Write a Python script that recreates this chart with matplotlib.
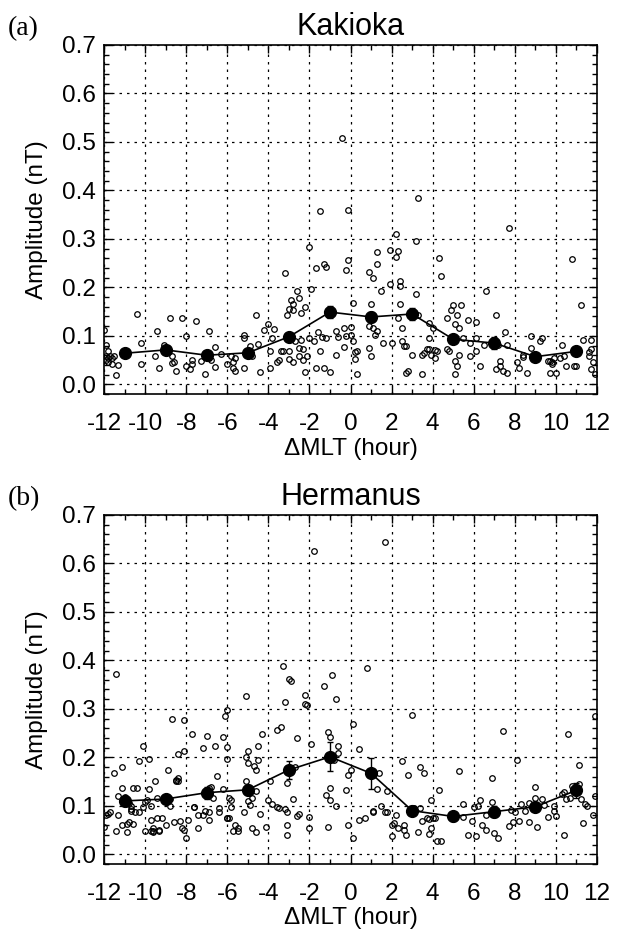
import numpy as np
import matplotlib
matplotlib.use('Agg')
import matplotlib.pyplot as plt
from matplotlib.ticker import MultipleLocator, FormatStrFormatter

plt.rcParams['font.family'] = 'Liberation Sans'
plt.rcParams['axes.unicode_minus'] = False

# ---- Kakioka: individual events (dMLT hour, amplitude nT)
kak_x = [-12.0, -11.9, -11.8, -11.9, -11.8, -11.9, -11.7, -11.8, -11.6, -11.5, -11.4, -11.3, -11.6,
         -10.4, -10.2, -10.2, -9.5, -9.4, -9.3, -9.1, -9.0, -8.8, -8.7, -8.7, -8.6, -8.5, -8.2, -8.0,
         -8.0, -7.8, -7.7, -7.7, -7.5, -7.3, -7.1, -6.9, -6.9, -6.8, -6.6, -6.6, -6.3, -6.0, -5.8,
         -5.7, -5.7, -5.6, -5.6, -5.2, -5.2, -5.2, -4.9, -4.8, -4.6, -4.5, -4.4, -4.2, -4.0, -3.9,
         -3.9, -3.8, -3.7, -3.6, -3.5, -3.4, -3.3, -3.2, -3.1, -3.0, -3.0, -3.0, -2.9, -2.8, -2.8,
         -2.8, -2.7, -2.6, -2.5, -2.5, -2.5, -2.4, -2.4, -2.3, -2.3, -2.2, -2.2, -2.1, -2.0, -2.0,
         -1.9, -1.8, -1.7, -1.7, -1.6, -1.5, -1.4, -1.3, -1.3, -1.2, -1.2, -1.1, -1.0, -1.5, -0.7,
         -0.7, -0.6, -0.4, -0.3, -0.3, -0.2, -0.2, -0.1, -0.1, 0.0, 0.0, 0.1, 0.1, 0.2, 0.2, 0.3,
         0.3, 0.9, 0.9, 0.9, 1.0, 1.0, 1.1, 1.1, 1.2, 1.3, 1.3, 1.3, 1.5, 1.6, 1.9, 1.9, 2.0, 2.2,
         2.2, 2.3, 2.3, 2.4, 2.4, 2.4, 2.5, 2.5, 2.6, 2.7, 2.7, 2.8, 3.0, 3.2, 3.2, 3.3, 3.3, 3.5,
         3.5, 3.6, 3.7, 3.8, 3.8, 3.8, 3.9, 4.0, 4.1, 4.2, 4.3, 4.1, 4.4, 4.7, 4.7, 4.8, 4.9, 5.0,
         5.1, 5.1, 5.1, 5.1, 5.2, 5.2, 5.3, 5.3, 5.4, 5.5, 5.7, 5.8, 5.8, 6.1, 6.1, 6.1, 6.3, 6.5,
         6.6, 7.1, 7.1, 7.2, 7.3, 7.3, 7.4, 7.5, 7.6, 7.7, 7.6, 8.1, 8.2, 8.4, 8.4, 8.6, 8.8, 8.8,
         9.2, 9.3, 9.6, 9.7, 9.7, 9.8, 9.9, 10.0, 9.8, 10.2, 10.3, 10.4, 10.5, 10.8, 10.9, 11.0,
         11.2, 11.3, 11.6, 11.6, 11.7, 11.7, 11.7, 11.8, 11.9]
kak_y = [0.112, 0.082, 0.068, 0.058, 0.055, 0.051, 0.058, 0.045, 0.041, 0.058, 0.019, 0.039, 0.055,
         0.146, 0.085, 0.041, 0.058, 0.109, 0.034, 0.082, 0.068, 0.136, 0.058, 0.043, 0.047, 0.028,
         0.136, 0.099, 0.038, 0.031, 0.051, 0.041, 0.130, 0.048, 0.021, 0.109, 0.055, 0.051, 0.036,
         0.076, 0.063, 0.041, 0.058, 0.045, 0.034, 0.028, 0.055, 0.102, 0.095, 0.034, 0.078, 0.058,
         0.144, 0.084, 0.026, 0.112, 0.124, 0.034, 0.068, 0.095, 0.114, 0.045, 0.051, 0.068, 0.068,
         0.230, 0.143, 0.068, 0.053, 0.156, 0.173, 0.046, 0.153, 0.166, 0.089, 0.193, 0.178, 0.058,
         0.075, 0.148, 0.092, 0.072, 0.051, 0.026, 0.159, 0.058, 0.283, 0.095, 0.197, 0.089, 0.239,
         0.034, 0.107, 0.068, 0.097, 0.034, 0.249, 0.095, 0.241, 0.143, 0.026, 0.357, 0.109, 0.060,
         0.097, 0.509, 0.076, 0.116, 0.236, 0.099, 0.256, 0.359, 0.119, 0.102, 0.168, 0.090, 0.067,
         0.053, 0.022, 0.068, 0.232, 0.121, 0.075, 0.059, 0.166, 0.220, 0.116, 0.102, 0.249, 0.272,
         0.109, 0.192, 0.085, 0.278, 0.207, 0.085, 0.311, 0.262, 0.136, 0.274, 0.214, 0.203, 0.166,
         0.116, 0.089, 0.078, 0.078, 0.024, 0.028, 0.061, 0.295, 0.186, 0.143, 0.384, 0.061, 0.021,
         0.065, 0.072, 0.072, 0.126, 0.095, 0.061, 0.116, 0.070, 0.068, 0.260, 0.055, 0.224, 0.137,
         0.072, 0.068, 0.153, 0.163, 0.095, 0.124, 0.048, 0.022, 0.038, 0.143, 0.116, 0.061, 0.163,
         0.095, 0.132, 0.058, 0.085, 0.129, 0.095, 0.068, 0.038, 0.082, 0.192, 0.143, 0.031, 0.082,
         0.048, 0.038, 0.028, 0.107, 0.082, 0.322, 0.024, 0.045, 0.034, 0.061, 0.056, 0.024, 0.099,
         0.075, 0.089, 0.095, 0.049, 0.048, 0.024, 0.041, 0.055, 0.024, 0.047, 0.055, 0.082, 0.058,
         0.038, 0.259, 0.038, 0.038, 0.163, 0.092, 0.058, 0.066, 0.072, 0.092, 0.031, 0.045, 0.022]

# ---- Hermanus: individual events
her_x = [-12.0, -11.9, -11.8, -11.7, -11.5, -11.4, -11.4, -11.3, -11.3, -11.1, -11.1, -11.1, -11.0,
         -11.0, -10.9, -10.9, -10.8, -10.8, -10.7, -10.7, -10.7, -10.6, -10.6, -10.5, -10.4, -10.3,
         -10.3, -10.1, -10.1, -10.0, -10.0, -9.9, -9.8, -9.8, -9.7, -9.7, -9.7, -9.6, -9.6, -9.6,
         -9.5, -9.4, -9.4, -9.3, -9.3, -9.2, -9.0, -8.9, -8.8, -8.8, -8.7, -8.6, -8.5, -8.5, -8.4,
         -8.4, -8.4, -8.3, -8.2, -8.1, -8.1, -8.1, -8.0, -7.9, -7.7, -7.6, -7.6, -7.4, -7.4, -7.2,
         -7.2, -7.1, -7.0, -6.9, -6.9, -6.9, -6.8, -6.7, -6.6, -6.5, -6.4, -6.4, -6.2, -6.2, -6.1,
         -6.0, -6.0, -6.0, -6.0, -6.0, -5.9, -5.9, -5.8, -5.8, -5.7, -5.6, -5.5, -5.5, -5.2, -5.1,
         -5.1, -5.1, -5.0, -5.0, -5.0, -4.9, -4.8, -4.8, -4.7, -4.6, -4.6, -4.6, -4.5, -4.5, -4.4,
         -4.3, -4.1, -4.0, -3.9, -3.8, -3.6, -3.6, -3.5, -3.4, -3.3, -3.2, -3.2, -3.1, -3.1, -3.1,
         -3.1, -3.0, -2.9, -2.8, -2.7, -2.6, -2.6, -2.5, -2.2, -2.2, -2.1, -2.0, -2.0, -1.9, -1.8,
         -1.3, -1.2, -1.1, -1.1, -1.0, -1.0, -1.0, -0.9, -0.8, -0.7, -0.7, -0.6, -0.6, -0.2, -0.1,
         -0.1, 0.0, 0.1, 0.1, 0.4, 0.4, 0.7, 0.8, 1.1, 1.1, 1.3, 1.4, 1.5, 1.7, 1.7, 1.8, 1.8, 2.0,
         2.0, 2.1, 2.2, 2.3, 2.5, 2.6, 2.6, 2.7, 2.8, 3.0, 3.1, 3.3, 3.4, 3.4, 3.5, 3.6, 3.7, 3.8,
         3.8, 3.9, 3.9, 4.0, 4.1, 4.2, 4.3, 4.4, 5.3, 5.5, 5.5, 5.7, 5.9, 6.0, 6.1, 6.2, 6.3, 6.4,
         6.6, 6.6, 6.9, 6.9, 7.0, 7.2, 7.4, 7.7, 7.8, 7.9, 8.0, 8.1, 8.2, 8.3, 8.5, 8.7, 8.7, 9.0,
         9.0, 9.1, 9.3, 9.4, 9.6, 9.9, 9.9, 10.0, 10.3, 10.4, 10.4, 10.5, 10.6, 10.7, 10.8, 11.1,
         11.1, 11.2, 11.3, 11.4, 11.5, 11.8, 11.9, 11.9]
her_y = [0.057, 0.080, 0.084, 0.087, 0.167, 0.372, 0.047, 0.121, 0.082, 0.060, 0.181, 0.136, 0.119,
         0.111, 0.045, 0.062, 0.067, 0.105, 0.094, 0.090, 0.100, 0.062, 0.137, 0.088, 0.136, 0.087,
         0.192, 0.097, 0.223, 0.107, 0.048, 0.111, 0.196, 0.134, 0.048, 0.070, 0.100, 0.045, 0.055,
         0.047, 0.151, 0.117, 0.074, 0.047, 0.050, 0.074, 0.060, 0.173, 0.114, 0.100, 0.278, 0.067,
         0.152, 0.154, 0.151, 0.206, 0.157, 0.068, 0.054, 0.276, 0.213, 0.050, 0.033, 0.070, 0.248,
         0.098, 0.098, 0.080, 0.054, 0.219, 0.080, 0.090, 0.244, 0.070, 0.137, 0.087, 0.139, 0.117,
         0.224, 0.162, 0.095, 0.087, 0.135, 0.242, 0.285, 0.074, 0.075, 0.298, 0.221, 0.196, 0.117,
         0.074, 0.111, 0.098, 0.047, 0.060, 0.047, 0.055, 0.087, 0.326, 0.151, 0.201, 0.109, 0.213,
         0.188, 0.102, 0.117, 0.055, 0.182, 0.174, 0.045, 0.131, 0.223, 0.194, 0.084, 0.249, 0.057,
         0.111, 0.151, 0.104, 0.257, 0.098, 0.095, 0.263, 0.388, 0.315, 0.094, 0.147, 0.087, 0.060,
         0.040, 0.362, 0.358, 0.115, 0.181, 0.239, 0.078, 0.084, 0.328, 0.310, 0.308, 0.055, 0.077,
         0.228, 0.626, 0.348, 0.122, 0.253, 0.057, 0.242, 0.137, 0.111, 0.370, 0.194, 0.099, 0.320,
         0.224, 0.208, 0.133, 0.060, 0.164, 0.174, 0.268, 0.033, 0.070, 0.218, 0.074, 0.385, 0.090,
         0.088, 0.134, 0.167, 0.099, 0.088, 0.644, 0.088, 0.131, 0.060, 0.037, 0.064, 0.080, 0.054,
         0.192, 0.060, 0.050, 0.040, 0.163, 0.288, 0.095, 0.046, 0.095, 0.181, 0.068, 0.167, 0.074,
         0.072, 0.042, 0.112, 0.054, 0.074, 0.074, 0.027, 0.133, 0.027, 0.171, 0.077, 0.104, 0.040,
         0.068, 0.097, 0.037, 0.100, 0.112, 0.060, 0.050, 0.080, 0.157, 0.107, 0.044, 0.033, 0.255,
         0.059, 0.092, 0.067, 0.088, 0.194, 0.068, 0.104, 0.090, 0.067, 0.105, 0.139, 0.117, 0.057,
         0.114, 0.102, 0.077, 0.100, 0.090, 0.078, 0.124, 0.129, 0.040, 0.114, 0.248, 0.117, 0.141,
         0.184, 0.144, 0.114, 0.064, 0.104, 0.100, 0.080, 0.285, 0.121]

# ---- 2-hour bin averages with standard errors
bin_x = [-11, -9, -7, -5, -3, -1, 1, 3, 5, 7, 9, 11]
kak_mean = [0.064, 0.071, 0.060, 0.065, 0.098, 0.149, 0.139, 0.145, 0.093, 0.085, 0.057, 0.068]
kak_err = [0.004, 0.008, 0.005, 0.005, 0.006, 0.012, 0.010, 0.012, 0.008, 0.012, 0.006, 0.008]
her_mean = [0.110, 0.114, 0.127, 0.133, 0.174, 0.201, 0.167, 0.090, 0.078, 0.088, 0.098, 0.132]
her_err = [0.010, 0.008, 0.012, 0.010, 0.018, 0.030, 0.032, 0.010, 0.010, 0.012, 0.008, 0.015]

fig = plt.figure(figsize=(6.19, 9.33), dpi=100)
ax1 = fig.add_axes([0.168, 0.5777, 0.7965, 0.3741])
ax2 = fig.add_axes([0.168, 0.0740, 0.7965, 0.3741])

panels = [(ax1, 'Kakioka', kak_x, kak_y, kak_mean, kak_err),
          (ax2, 'Hermanus', her_x, her_y, her_mean, her_err)]

for ax, name, x, y, m, e in panels:
    ax.plot(x, y, 'o', mfc='none', mec='k', ms=4.0, mew=0.9, zorder=3)
    ax.errorbar(bin_x, m, yerr=e, fmt='o-', color='k', ms=8.5, lw=1.2,
                elinewidth=1.0, capsize=2.5, capthick=1.0, zorder=4)
    ax.set_xlim(-12, 12)
    ax.set_ylim(-0.02, 0.7)
    ax.xaxis.set_major_locator(MultipleLocator(2))
    ax.xaxis.set_minor_locator(MultipleLocator(1))
    ax.yaxis.set_major_locator(MultipleLocator(0.1))
    ax.yaxis.set_minor_locator(MultipleLocator(0.02))
    ax.yaxis.set_major_formatter(FormatStrFormatter('%.1f'))
    ax.tick_params(which='both', direction='in', top=True, right=True, width=1.0)
    ax.tick_params(which='major', length=6)
    ax.tick_params(which='minor', length=3.5)
    ax.tick_params(axis='x', labelsize=17.5, pad=13.5)
    ax.tick_params(axis='y', labelsize=17.5, pad=6)
    ax.grid(True, which='major', color='k', linestyle=(0, (2, 4)), linewidth=0.9)
    for s in ax.spines.values():
        s.set_linewidth(1.2)
    ax.set_title(name, fontsize=22, pad=7)
    ax.set_xlabel('ΔMLT (hour)', fontsize=17.5, labelpad=2)
    ax.set_ylabel('Amplitude (nT)', fontsize=17.5, labelpad=10)

fig.text(0.012, 1 - 35 / 933, '(a)', family='Liberation Serif', fontsize=20, va='baseline')
fig.text(0.012, 1 - 505 / 933, '(b)', family='Liberation Serif', fontsize=20, va='baseline')

plt.savefig('out.png', dpi=100)
